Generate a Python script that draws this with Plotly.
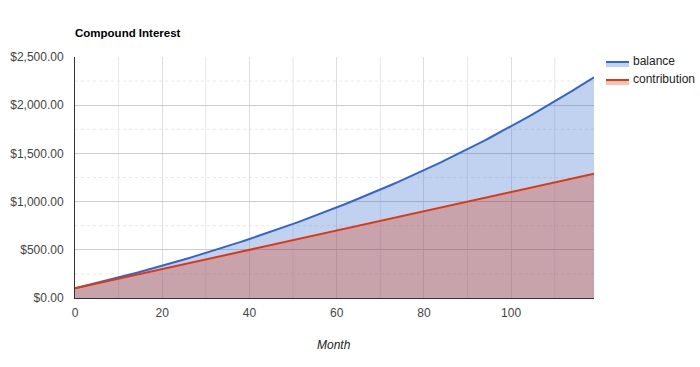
import plotly.graph_objects as go

months = list(range(0, 120))
contribution = [
    100, 110, 120, 130, 140, 150, 160, 170, 180, 190,
    200, 210, 220, 230, 240, 250, 260, 270, 280, 290,
    300, 310, 320, 330, 340, 350, 360, 370, 380, 390,
    400, 410, 420, 430, 440, 450, 460, 470, 480, 490,
    500, 510, 520, 530, 540, 550, 560, 570, 580, 590,
    600, 610, 620, 630, 640, 650, 660, 670, 680, 690,
    700, 710, 720, 730, 740, 750, 760, 770, 780, 790,
    800, 810, 820, 830, 840, 850, 860, 870, 880, 890,
    900, 910, 920, 930, 940, 950, 960, 970, 980, 990,
    1000, 1010, 1020, 1030, 1040, 1050, 1060, 1070, 1080, 1090,
    1100, 1110, 1120, 1130, 1140, 1150, 1160, 1170, 1180, 1190,
    1200, 1210, 1220, 1230, 1240, 1250, 1260, 1270, 1280, 1290,
]
balance = [
    100.00, 110.83, 121.76, 132.77, 143.88, 155.08, 166.37, 177.76, 189.24, 200.82,
    212.49, 224.26, 236.13, 248.10, 260.17, 272.34, 284.61, 296.98, 309.46, 322.04,
    334.72, 347.51, 360.41, 373.41, 386.52, 399.74, 413.07, 426.51, 440.06, 453.73,
    467.51, 481.41, 495.42, 509.55, 523.80, 538.17, 552.66, 567.26, 581.99, 596.84,
    611.81, 626.91, 642.13, 657.48, 672.96, 688.57, 704.31, 720.18, 736.18, 752.32,
    768.59, 785.00, 801.54, 818.22, 835.04, 852.00, 869.10, 886.34, 903.73, 921.26,
    938.94, 956.77, 974.74, 992.86, 1011.13, 1029.56, 1048.14, 1066.88, 1085.77, 1104.82,
    1124.03, 1143.40, 1162.93, 1182.62, 1202.48, 1222.50, 1242.69, 1263.05, 1283.58, 1304.28,
    1325.15, 1346.19, 1367.41, 1388.81, 1410.38, 1432.13, 1454.06, 1476.18, 1498.48, 1520.97,
    1543.65, 1566.51, 1589.56, 1612.81, 1636.25, 1659.89, 1683.72, 1707.75, 1731.98, 1756.41,
    1781.05, 1805.89, 1830.94, 1856.20, 1881.67, 1907.35, 1933.25, 1959.36, 1985.69, 2012.24,
    2039.01, 2066.00, 2093.22, 2120.66, 2148.33, 2176.23, 2204.37, 2232.74, 2261.35, 2290.19,
]
series_names = ["balance", "contribution"]
series_colors = ["#3366CC", "#DC3912"]
series_fills = ["rgba(51,102,204,0.3)", "rgba(220,57,18,0.3)"]
x_ticks = [0, 20, 40, 60, 80, 100]
y_ticks = [0, 500, 1000, 1500, 2000, 2500]

W, H = 700, 367
L, R, T, B = 75, 106, 57, 69
PW, PH = W - L - R, H - T - B

fig = go.Figure()
for name, ys, col, fc in zip(series_names, [balance, contribution], series_colors, series_fills):
    fig.add_trace(go.Scatter(
        x=months, y=ys, name=name, mode="lines",
        line=dict(color=col, width=2), fill="tozeroy", fillcolor=fc,
        showlegend=False,
    ))

shapes = []
# minor dotted horizontal gridlines
for v in [250, 750, 1250, 1750, 2250]:
    shapes.append(dict(type="line", xref="paper", x0=0, x1=1, yref="y", y0=v, y1=v,
                       line=dict(color="#e8e8e8", width=1, dash="dot"), layer="below"))
# vertical gridlines between labelled ticks
for v in range(10, 120, 20):
    shapes.append(dict(type="line", xref="x", x0=v, x1=v, yref="paper", y0=0, y1=1,
                       line=dict(color="#e8e8e8", width=1), layer="below"))

annotations = []
def px_x(p):
    return (p - L) / PW
def px_y(p):
    return 1 - (p - T) / PH
for i, (name, col, fc) in enumerate(zip(series_names, series_colors, series_fills)):
    yc = 62 + i * 18
    shapes.append(dict(type="rect", xref="paper", yref="paper",
                       x0=px_x(606), x1=px_x(629), y0=px_y(yc + 5), y1=px_y(yc),
                       fillcolor=fc, line=dict(width=0)))
    shapes.append(dict(type="line", xref="paper", yref="paper",
                       x0=px_x(606), x1=px_x(629), y0=px_y(yc), y1=px_y(yc),
                       line=dict(color=col, width=2)))
    annotations.append(dict(text=name, xref="paper", yref="paper",
                            x=px_x(631), y=px_y(yc - 1), xanchor="left", yanchor="middle",
                            showarrow=False, font=dict(size=12, color="#222")))

annotations.append(dict(text="<i>Month</i>", xref="paper", yref="paper",
                        x=px_x(334), y=px_y(345), xanchor="center", yanchor="middle",
                        showarrow=False, font=dict(size=12, color="#222")))

fig.update_layout(
    width=W, height=H,
    margin=dict(l=L, r=R, t=T, b=B, autoexpand=False),
    paper_bgcolor="white", plot_bgcolor="white",
    font=dict(family="Arial, Liberation Sans, sans-serif", size=12, color="#444"),
    title=dict(text="<b>Compound Interest</b>", x=75 / W, xanchor="left",
               y=1 - 33 / H, yanchor="middle",
               font=dict(size=11.5, color="#000")),
    showlegend=False,
    hovermode="x",
    shapes=shapes,
    annotations=annotations,
)
fig.update_xaxes(
    range=[0, 119], tickvals=x_ticks, ticks="", automargin=False,
    showgrid=True, gridcolor="#dddddd",
    showline=True, linecolor="#333", linewidth=1,
    zeroline=False, tickfont=dict(size=12, color="#444"),
    ticklabelstandoff=4,
)
fig.update_yaxes(
    range=[0, 2500], tickvals=y_ticks, tickformat="$,.2f", ticks="", automargin=False,
    showgrid=True, gridcolor="#cccccc",
    showline=True, linecolor="#333", linewidth=1,
    zeroline=False, tickfont=dict(size=12, color="#444"),
    ticklabelstandoff=8,
)

fig.write_html(
    "out.html",
    config={"displayModeBar": False},
    post_script="document.body.style.margin='0';document.body.style.padding='0';",
)
